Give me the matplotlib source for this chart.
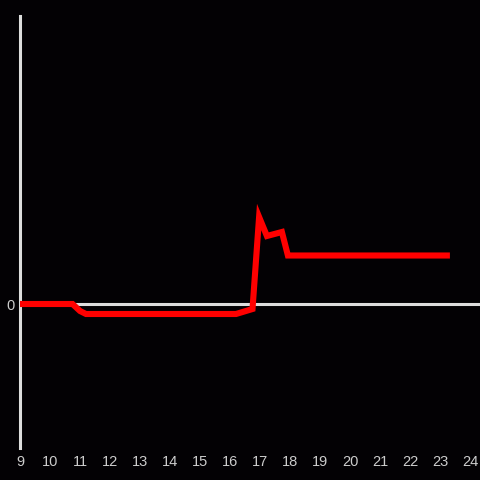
import matplotlib as mpl

mpl.use("Agg")
import matplotlib.pyplot as plt

# values
hours = [9.0, 10.75, 11.0, 11.2, 16.2, 16.75, 16.97, 17.23, 17.73, 17.93, 23.33]
values = [0.0, 0.0, -0.07, -0.1, -0.1, -0.05, 0.87, 0.68, 0.72, 0.485, 0.485]
xticks = list(range(9, 25))

BG = "#030104"
AXIS = "#dddddd"
TEXT = "#cccccc"

plt.rcParams["font.family"] = ["Liberation Sans", "DejaVu Sans"]

fig = plt.figure(figsize=(4.8, 4.8), dpi=100, facecolor=BG)
ax = fig.add_axes([20 / 480, 32 / 480, 460 / 480, 432 / 480], facecolor=BG)

ax.axhline(0, color=AXIS, lw=2.2, zorder=1)
ax.plot(hours, values, color="#ff0000", lw=4.4,
        solid_joinstyle="miter", solid_capstyle="butt", zorder=3)

ax.set_xlim(9, 24.333)
ax.set_ylim(-1.44, 2.88)
ax.set_xticks(xticks)
ax.set_yticks([0])
ax.set_yticklabels(["0"])

for side in ("top", "right", "bottom"):
    ax.spines[side].set_visible(False)
ax.spines["left"].set_color(AXIS)
ax.spines["left"].set_linewidth(2.2)

ax.tick_params(axis="both", length=0, colors=TEXT, labelsize=10.5)
ax.tick_params(axis="x", pad=5)
ax.tick_params(axis="y", pad=4)

fig.savefig("out.png", dpi=100, facecolor=BG)
